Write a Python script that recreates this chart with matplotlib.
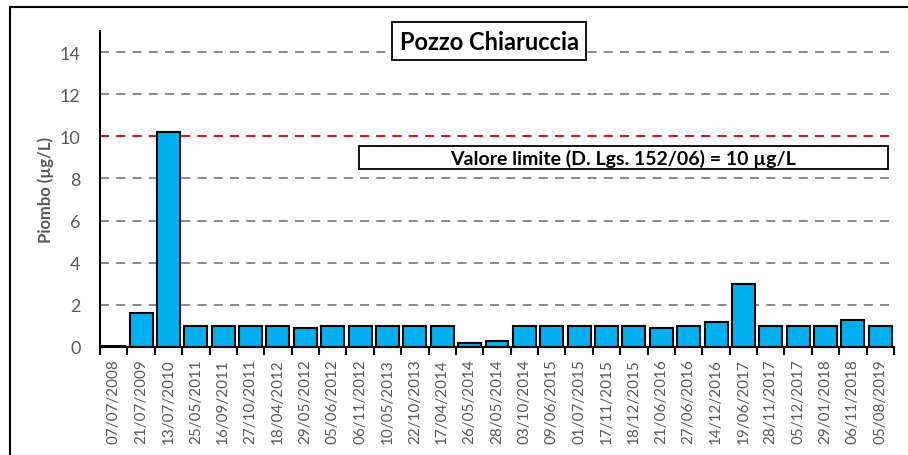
import matplotlib.pyplot as plt
from matplotlib.patches import Rectangle

dates = ["07/07/2008", "21/07/2009", "13/07/2010", "25/05/2011", "16/09/2011",
         "27/10/2011", "18/04/2012", "29/05/2012", "05/06/2012", "06/11/2012",
         "10/05/2013", "22/10/2013", "17/04/2014", "26/05/2014", "28/05/2014",
         "03/10/2014", "09/06/2015", "01/07/2015", "17/11/2015", "18/12/2015",
         "21/06/2016", "27/06/2016", "14/12/2016", "19/06/2017", "28/11/2017",
         "05/12/2017", "29/01/2018", "06/11/2018", "05/08/2019"]
piombo = [0.05, 1.6, 10.2, 1.0, 1.0, 1.0, 1.0, 0.9, 1.0, 1.0,
          1.0, 1.0, 1.0, 0.2, 0.3, 1.0, 1.0, 1.0, 1.0, 1.0,
          0.9, 1.0, 1.2, 3.0, 1.0, 1.0, 1.0, 1.3, 1.0]
limite = 10
yticks = [0, 2, 4, 6, 8, 10, 12, 14]

plt.rcParams["font.family"] = ["Lato", "DejaVu Sans"]
grey = "#595959"

fig = plt.figure(figsize=(9.08, 4.56), dpi=100)
ax = fig.add_axes([100 / 908, 1 - 348 / 456, 794 / 908, 316 / 456])

# outer chart border
fig.patches.append(Rectangle((10 / 908, -0.05), 1.2, 1 - 8 / 456 + 0.05,
                             transform=fig.transFigure, fill=False,
                             edgecolor="black", lw=1.5))

x = range(len(dates))
for y in yticks[1:]:
    ax.axhline(y, color="#808080", lw=1.3, ls=(0, (5, 4)), zorder=0)
ax.axhline(limite, color="red", lw=1.3, ls=(0, (5, 4)), zorder=0.5)

ax.bar(x, piombo, width=0.84, color="#00B0F0", edgecolor="black", lw=1.5, zorder=2)

ax.set_xlim(-0.5, len(dates) - 0.5)
ax.set_ylim(0, 15)
ax.set_yticks(yticks)
ax.tick_params(axis="y", length=0, labelsize=13, labelcolor=grey, pad=14)
ax.set_xticks([i - 0.5 for i in range(len(dates) + 1)])
ax.set_xticklabels([])
ax.set_xticks(list(x), minor=True)
ax.set_xticklabels(dates, minor=True, rotation=90, fontsize=11, color=grey)
ax.tick_params(axis="x", which="major", length=6, width=1.5, direction="out")
ax.tick_params(axis="x", which="minor", length=0, pad=8)

for s in ["top", "right"]:
    ax.spines[s].set_visible(False)
ax.spines["left"].set_linewidth(1.5)
ax.spines["bottom"].set_linewidth(1.5)

ax.set_ylabel("Piombo (µg/L)", fontsize=12, fontweight="bold", color=grey, labelpad=4)

fig.text(489 / 908, 1 - 42 / 456, "Pozzo Chiaruccia", ha="center", va="center",
         fontsize=17, fontweight="bold",
         bbox=dict(boxstyle="square,pad=0.33", fc="white", ec="black", lw=1.3))
fig.patches.append(Rectangle((359 / 908, 1 - 170 / 456), 529 / 908, 23 / 456,
                             transform=fig.transFigure, fc="white", ec="black",
                             lw=1.3, zorder=3))
fig.text(623 / 908, 1 - 159 / 456, "Valore limite (D. Lgs. 152/06) = 10 µg/L",
         ha="center", va="center", fontsize=14, fontweight="bold", zorder=4)

fig.savefig("out.png", dpi=100)
